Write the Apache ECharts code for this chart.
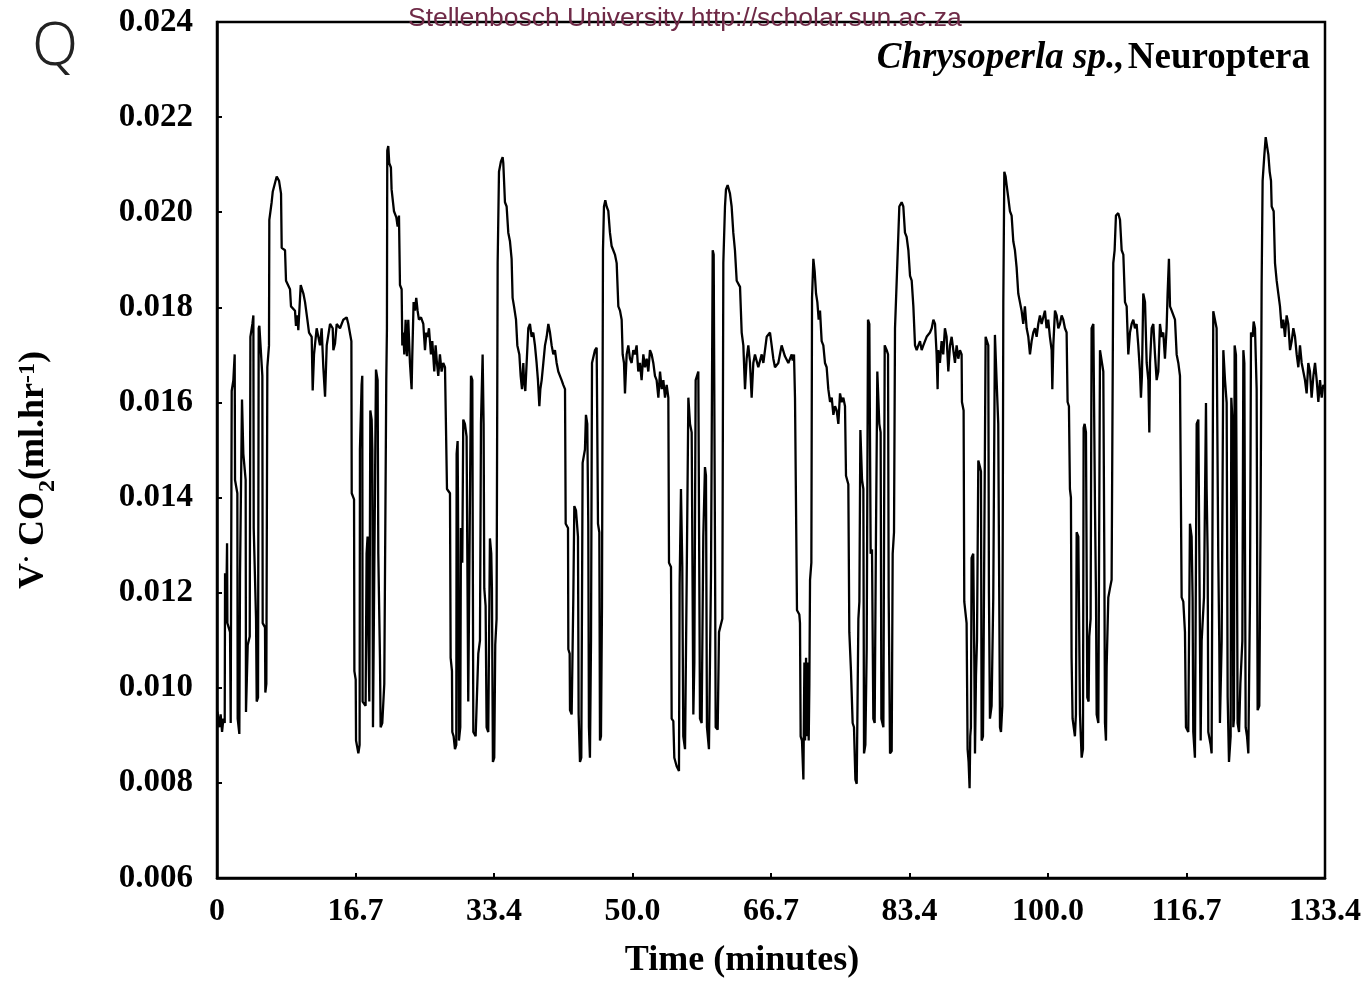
<!DOCTYPE html>
<html><head><meta charset="utf-8">
<script src="https://cdn.jsdelivr.net/npm/echarts@6/dist/echarts.min.js"></script>
<style>html,body{margin:0;padding:0;background:#fff}#c{width:1367px;height:981px}</style>
</head><body><div id="c"></div>
<script>
// [time (minutes), V'CO2 (ml/hr)], one array per phase
const flutter1 = [[0.05,0.00950],[0.16,0.00953],[0.28,0.00917],[0.44,0.00944],[0.61,0.00907],[0.77,0.00935],[0.93,0.00926],[0.97,0.01241],[1.09,0.01136],[1.21,0.01304],[1.25,0.01136],[1.57,0.01117],[1.65,0.00926],[1.73,0.00930],[1.77,0.01624],[1.97,0.01647],[2.13,0.01701],[2.17,0.01437],[2.45,0.01409],[2.49,0.00935],[2.69,0.00903],[2.77,0.01236],[3.01,0.01606],[3.17,0.01492],[3.45,0.01437],[3.49,0.00949],[3.61,0.00953],[3.70,0.01090],[3.94,0.01108],[4.02,0.01738],[4.26,0.01765],[4.38,0.01783],[4.42,0.01336],[4.70,0.01145],[4.78,0.00971],[4.94,0.00980],[5.02,0.01756],[5.10,0.01761],[5.46,0.01656],[5.50,0.01136],[5.78,0.01127],[5.82,0.00990],[5.94,0.01008],[6.06,0.01674],[6.26,0.01720]];
const burst1 = [[6.30,0.01984],[6.58,0.02021],[6.71,0.02043],[6.99,0.02062],[7.19,0.02075],[7.47,0.02066],[7.71,0.02039],[7.79,0.01925],[8.19,0.01920],[8.31,0.01856],[8.79,0.01838],[8.91,0.01802],[9.39,0.01793],[9.51,0.01761],[9.67,0.01783],[9.79,0.01752],[10.08,0.01847],[10.40,0.01829],[10.60,0.01811],[10.88,0.01774],[11.08,0.01747],[11.40,0.01738],[11.52,0.01625],[11.68,0.01701],[12.00,0.01756],[12.40,0.01720],[12.60,0.01756],[12.80,0.01674],[13.01,0.01612],[13.21,0.01720],[13.61,0.01765],[13.93,0.01756],[14.01,0.01710],[14.21,0.01724],[14.41,0.01765],[14.81,0.01756],[15.21,0.01774],[15.61,0.01779],[15.81,0.01765],[16.18,0.01729],[16.22,0.01409],[16.50,0.01396],[16.54,0.01035],[16.70,0.01017],[16.74,0.00889],[17.02,0.00862]];
const flutter2 = [[17.17,0.00880],[17.21,0.01501],[17.41,0.01637],[17.49,0.01656],[17.53,0.00971],[17.89,0.00962],[18.01,0.01282],[18.13,0.01318],[18.22,0.01117],[18.34,0.00971],[18.46,0.01583],[18.62,0.01564],[18.70,0.01501],[18.78,0.00917],[19.02,0.00917],[19.14,0.01669],[19.34,0.01647],[19.42,0.01282],[19.62,0.01063],[19.70,0.00917],[19.90,0.00926],[20.06,0.00926],[20.14,0.01008],[20.38,0.01647],[20.46,0.01756]];
const burst2 = [[20.50,0.02130],[20.62,0.02139],[20.74,0.02103],[20.94,0.02094],[21.02,0.02048],[21.31,0.02002],[21.43,0.01998],[21.59,0.01989],[21.75,0.01970],[21.91,0.01993],[22.03,0.01847],[22.23,0.01838],[22.31,0.01720],[22.43,0.01747],[22.55,0.01701],[22.71,0.01774],[22.87,0.01697],[23.03,0.01774],[23.23,0.01683],[23.43,0.01628],[23.51,0.01697],[23.67,0.01811],[23.83,0.01793],[23.99,0.01820],[24.15,0.01793],[24.31,0.01774],[24.56,0.01779],[24.84,0.01765],[25.04,0.01710],[25.20,0.01747],[25.36,0.01738],[25.52,0.01756],[25.76,0.01701],[25.92,0.01729],[26.16,0.01665],[26.32,0.01720],[26.48,0.01683],[26.64,0.01656],[26.84,0.01701],[27.04,0.01665],[27.24,0.01683],[27.45,0.01674],[27.65,0.01678],[27.69,0.01418],[28.05,0.01409],[28.13,0.01063],[28.29,0.01035],[28.33,0.00907],[28.49,0.00898],[28.65,0.00871]];
const flutter3 = [[28.81,0.00880],[28.85,0.01492],[28.97,0.01519],[29.05,0.01282],[29.13,0.00889],[29.29,0.00917],[29.37,0.01336],[29.53,0.01263],[29.65,0.01564],[29.85,0.01555],[30.05,0.01528],[30.25,0.00971],[30.45,0.00971],[30.58,0.01656],[30.74,0.01647],[30.86,0.00907],[31.14,0.00898],[31.46,0.01072],[31.66,0.01099],[31.78,0.01555],[31.98,0.01701],[32.10,0.01555],[32.18,0.01209],[32.34,0.01172],[32.46,0.00917],[32.66,0.00907],[32.86,0.01314],[33.02,0.01282],[33.10,0.01209],[33.22,0.00844],[33.38,0.00853],[33.50,0.01090],[33.66,0.01145],[33.79,0.01893]];
const burst3 = [[33.95,0.02085],[34.19,0.02107],[34.39,0.02116],[34.47,0.02103],[34.67,0.02021],[34.87,0.02012],[35.07,0.01957],[35.27,0.01939],[35.47,0.01902],[35.59,0.01820],[35.76,0.01802],[36.00,0.01774],[36.16,0.01720],[36.40,0.01701],[36.56,0.01656],[36.72,0.01628],[36.88,0.01683],[36.96,0.01647],[37.12,0.01624],[37.28,0.01683],[37.48,0.01756],[37.68,0.01765],[37.88,0.01738],[38.08,0.01747],[38.28,0.01720],[38.48,0.01683],[38.64,0.01647],[38.81,0.01592],[38.93,0.01628],[39.09,0.01647],[39.29,0.01683],[39.49,0.01720],[39.69,0.01738],[39.89,0.01765],[40.09,0.01747],[40.29,0.01720],[40.49,0.01701],[40.69,0.01710],[40.89,0.01683],[41.09,0.01665],[41.29,0.01656],[41.49,0.01647],[41.69,0.01637],[41.90,0.01628],[41.98,0.01345],[42.26,0.01336],[42.30,0.01081],[42.46,0.01072],[42.50,0.00953],[42.70,0.00944]];
const flutter4 = [[42.90,0.01190],[43.02,0.01382],[43.22,0.01373],[43.46,0.01318],[43.54,0.00944],[43.70,0.00844],[43.86,0.00853],[44.02,0.01473],[44.30,0.01501],[44.42,0.01574],[44.58,0.01555],[44.70,0.01345],[44.78,0.00917],[44.90,0.00853],[45.03,0.01099],[45.15,0.01683],[45.51,0.01710],[45.71,0.01715],[45.87,0.01345],[46.03,0.01327],[46.11,0.00889],[46.23,0.00898],[46.35,0.01172],[46.47,0.01920]];
const burst4 = [[46.59,0.02012],[46.75,0.02025],[46.91,0.02012],[47.11,0.02003],[47.31,0.01957],[47.51,0.01929],[47.71,0.01920],[47.91,0.01911],[48.12,0.01893],[48.32,0.01802],[48.52,0.01793],[48.72,0.01774],[48.84,0.01701],[49.00,0.01683],[49.12,0.01619],[49.32,0.01701],[49.52,0.01720],[49.72,0.01692],[49.92,0.01683],[50.12,0.01710],[50.32,0.01701],[50.52,0.01720],[50.72,0.01665],[50.92,0.01683],[51.12,0.01647],[51.33,0.01701],[51.53,0.01674],[51.73,0.01692],[51.93,0.01665],[52.13,0.01710],[52.33,0.01701],[52.53,0.01683],[52.73,0.01656],[52.93,0.01647],[53.14,0.01610],[53.34,0.01665],[53.54,0.01628],[53.74,0.01647],[53.94,0.01610],[54.14,0.01637],[54.34,0.01610],[54.42,0.01263],[54.66,0.01254],[54.74,0.00935],[54.94,0.00930],[55.06,0.00853],[55.34,0.00835],[55.62,0.00825]];
const flutter5 = [[55.70,0.01218],[55.86,0.01418],[56.02,0.01254],[56.14,0.00898],[56.35,0.00871],[56.55,0.01227],[56.75,0.01610],[56.95,0.01555],[57.15,0.01537],[57.35,0.00944],[57.47,0.01053],[57.63,0.01647],[57.95,0.01665],[58.15,0.00935],[58.35,0.00926],[58.55,0.01318],[58.75,0.01464],[58.87,0.01446],[58.99,0.00917],[59.23,0.00871],[59.48,0.01245],[59.68,0.01920],[59.80,0.01911],[59.96,0.01282],[60.04,0.00917],[60.28,0.00912],[60.44,0.01117],[60.84,0.01145],[60.96,0.01893]];
const burst5 = [[61.16,0.02012],[61.28,0.02048],[61.48,0.02057],[61.76,0.02039],[61.96,0.02012],[62.16,0.01957],[62.36,0.01920],[62.57,0.01856],[62.97,0.01843],[63.17,0.01747],[63.37,0.01720],[63.57,0.01628],[63.77,0.01692],[63.97,0.01720],[64.17,0.01683],[64.37,0.01610],[64.57,0.01683],[64.77,0.01701],[65.17,0.01674],[65.58,0.01701],[65.78,0.01683],[66.18,0.01738],[66.58,0.01747],[66.78,0.01720],[66.98,0.01692],[67.18,0.01674],[67.58,0.01683],[67.98,0.01720],[68.38,0.01697],[68.79,0.01683],[69.19,0.01701],[69.31,0.01688],[69.47,0.01701],[69.59,0.01610],[69.79,0.01606],[69.83,0.01163],[70.11,0.01154],[70.19,0.01136],[70.27,0.00898],[70.43,0.00889],[70.60,0.00807]];
const flutter6 = [[70.72,0.01053],[70.80,0.00889],[70.92,0.01063],[71.00,0.00898],[71.12,0.01053],[71.24,0.00889],[71.32,0.01008],[71.40,0.01227],[71.56,0.01263]];
const burst6 = [[71.64,0.01820],[71.80,0.01902],[71.96,0.01875],[72.12,0.01829],[72.28,0.01811],[72.44,0.01774],[72.60,0.01793],[72.80,0.01729],[73.00,0.01720],[73.20,0.01683],[73.40,0.01674],[73.60,0.01628],[73.81,0.01601],[74.01,0.01610],[74.21,0.01574],[74.41,0.01592],[74.61,0.01583],[74.81,0.01555],[75.01,0.01619],[75.21,0.01601],[75.41,0.01610],[75.61,0.01592],[75.73,0.01446],[76.01,0.01428],[76.13,0.01117],[76.33,0.01035],[76.53,0.00926],[76.69,0.00917],[76.86,0.00807],[77.02,0.00798]];
const flutter7 = [[77.22,0.01145],[77.34,0.01181],[77.46,0.01542],[77.66,0.01437],[77.82,0.01418],[77.90,0.00862],[78.06,0.00880],[78.22,0.01081],[78.38,0.01774],[78.54,0.01765],[78.70,0.01282],[78.86,0.01291],[79.02,0.00935],[79.18,0.00926],[79.34,0.01327],[79.50,0.01665],[79.74,0.01555],[79.90,0.01537],[79.99,0.00935],[80.23,0.00917],[80.39,0.01720],[80.63,0.01710],[80.79,0.01701],[80.87,0.01190],[81.03,0.00862],[81.23,0.00867],[81.35,0.01282],[81.51,0.01327],[81.63,0.01756],[81.83,0.01756],[81.91,0.01893]];
const burst7 = [[82.15,0.02012],[82.43,0.02021],[82.63,0.02012],[82.83,0.01957],[83.03,0.01948],[83.24,0.01920],[83.44,0.01866],[83.64,0.01856],[83.84,0.01802],[84.04,0.01720],[84.24,0.01710],[84.44,0.01720],[84.64,0.01729],[84.84,0.01710],[85.04,0.01720],[85.44,0.01738],[85.84,0.01747],[86.05,0.01756],[86.25,0.01774],[86.45,0.01765],[86.64,0.01701],[86.76,0.01628],[86.84,0.01710],[87.04,0.01683],[87.24,0.01729],[87.44,0.01701],[87.64,0.01756],[87.84,0.01738],[88.05,0.01665],[88.25,0.01720],[88.45,0.01738],[88.65,0.01710],[88.85,0.01683],[89.05,0.01720],[89.25,0.01692],[89.45,0.01710],[89.65,0.01701],[89.69,0.01601],[89.89,0.01583],[89.97,0.01181],[90.25,0.01136],[90.37,0.00871],[90.49,0.00844],[90.61,0.00789]];
const flutter8 = [[90.69,0.00898],[90.77,0.00917],[90.85,0.01273],[91.05,0.01282],[91.18,0.01053],[91.26,0.00862],[91.38,0.01026],[91.50,0.01099],[91.66,0.01478],[91.86,0.01464],[91.98,0.01455],[92.06,0.00889],[92.22,0.00898],[92.30,0.01081],[92.54,0.01738],[92.70,0.01729],[92.86,0.01720],[92.94,0.01199],[93.06,0.00935],[93.26,0.00962],[93.46,0.01190],[93.66,0.01742],[93.86,0.01647],[94.06,0.01555],[94.27,0.00917],[94.39,0.00907],[94.55,0.00962],[94.67,0.01811]];
const burst8 = [[94.79,0.02085],[94.95,0.02075],[95.07,0.02057],[95.27,0.02030],[95.47,0.02002],[95.67,0.01993],[95.87,0.01939],[96.07,0.01920],[96.27,0.01884],[96.47,0.01829],[96.67,0.01811],[96.87,0.01793],[97.07,0.01765],[97.27,0.01802],[97.48,0.01756],[97.68,0.01738],[97.88,0.01701],[98.08,0.01729],[98.28,0.01747],[98.48,0.01756],[98.68,0.01738],[98.88,0.01765],[99.08,0.01783],[99.28,0.01765],[99.68,0.01793],[99.88,0.01756],[100.08,0.01774],[100.28,0.01738],[100.49,0.01710],[100.57,0.01628],[100.69,0.01720],[100.89,0.01793],[101.09,0.01783],[101.29,0.01756],[101.49,0.01765],[101.69,0.01783],[101.89,0.01774],[102.09,0.01756],[102.29,0.01747],[102.41,0.01601],[102.57,0.01592],[102.69,0.01418],[102.81,0.01400],[102.89,0.01063],[103.01,0.00935],[103.21,0.00935],[103.29,0.00898]];
const flutter9 = [[103.41,0.00944],[103.50,0.01327],[103.70,0.01318],[103.90,0.00944],[104.10,0.00853],[104.26,0.00871],[104.34,0.01546],[104.46,0.01555],[104.62,0.01537],[104.78,0.00980],[104.94,0.00971],[105.02,0.01108],[105.18,0.01145],[105.30,0.01756],[105.51,0.01765],[105.71,0.01373],[105.83,0.01190],[105.91,0.00944],[106.11,0.00926],[106.31,0.01710],[106.51,0.01710],[106.71,0.01665],[106.83,0.01282],[106.91,0.00926],[107.03,0.00889],[107.11,0.01044],[107.31,0.01190],[107.51,0.01209],[107.71,0.01227],[107.91,0.01893]];
const burst9 = [[108.07,0.01920],[108.23,0.01993],[108.51,0.01998],[108.72,0.01984],[108.92,0.01920],[109.12,0.01911],[109.32,0.01811],[109.52,0.01802],[109.72,0.01701],[109.92,0.01747],[110.12,0.01765],[110.32,0.01774],[110.52,0.01756],[110.72,0.01765],[110.92,0.01720],[111.12,0.01665],[111.24,0.01610],[111.36,0.01656],[111.52,0.01829],[111.73,0.01811],[111.93,0.01683],[112.13,0.01647],[112.25,0.01537],[112.33,0.01683],[112.53,0.01756],[112.73,0.01765],[112.93,0.01701],[113.13,0.01647],[113.33,0.01665],[113.53,0.01765],[113.73,0.01738],[113.93,0.01747],[114.13,0.01692],[114.33,0.01756],[114.45,0.01829],[114.61,0.01902],[114.74,0.01802],[114.94,0.01793],[115.14,0.01793],[115.34,0.01774],[115.54,0.01701],[115.74,0.01683],[115.94,0.01656],[116.06,0.01656],[116.14,0.01190],[116.34,0.01181],[116.54,0.01117],[116.66,0.00917],[116.94,0.00907]];
const flutter10 = [[117.14,0.01345],[117.34,0.01318],[117.46,0.01190],[117.54,0.00907],[117.74,0.00853],[117.95,0.01555],[118.15,0.01564],[118.27,0.01282],[118.43,0.00889],[118.55,0.01099],[118.83,0.01190],[119.07,0.01599],[119.15,0.01418],[119.27,0.01282],[119.35,0.00907],[119.63,0.00880],[119.75,0.00862],[119.95,0.01792],[120.15,0.01792],[120.35,0.01756],[120.55,0.01273],[120.67,0.01099],[120.75,0.00926],[120.96,0.01099],[121.16,0.01710],[121.36,0.01647],[121.56,0.01599],[121.68,0.00980],[121.84,0.00844],[122.04,0.00898],[122.12,0.01610],[122.28,0.01555],[122.36,0.00917],[122.44,0.00935],[122.52,0.01720],[122.68,0.01700],[122.80,0.01282],[122.88,0.00926],[123.05,0.00907],[123.21,0.01008],[123.45,0.01099],[123.57,0.01710],[123.69,0.01683],[123.77,0.01282],[123.85,0.00917],[124.01,0.00898],[124.17,0.00862],[124.37,0.01190],[124.49,0.01747],[124.69,0.01738],[124.81,0.01770],[124.97,0.01756],[125.17,0.01628],[125.29,0.00953],[125.49,0.00962],[125.65,0.01373],[125.77,0.01847]];
const burst10 = [[125.89,0.02066],[126.10,0.02121],[126.26,0.02158],[126.42,0.02139],[126.58,0.02121],[126.74,0.02085],[126.90,0.02066],[126.98,0.02012],[127.22,0.02002],[127.38,0.01893],[127.58,0.01856],[127.78,0.01829],[127.98,0.01802],[128.18,0.01756],[128.38,0.01774],[128.58,0.01738],[128.78,0.01783],[128.98,0.01765],[129.19,0.01710],[129.39,0.01729],[129.59,0.01756],[129.79,0.01738],[129.99,0.01701],[130.19,0.01674],[130.39,0.01720],[130.59,0.01683],[130.79,0.01665],[130.99,0.01647],[131.19,0.01619],[131.39,0.01683],[131.59,0.01665],[131.79,0.01610],[132.00,0.01656],[132.20,0.01683],[132.40,0.01647],[132.60,0.01601],[132.80,0.01647],[133.00,0.01610],[133.20,0.01637],[133.32,0.01628]];

const xTickLabels = ['0','16.7','33.4','50.0','66.7','83.4','100.0','116.7','133.4'];
const xMax = 133.4, xStep = 133.4 / 8;
const yMin = 0.006, yMax = 0.024, yStep = 0.002;

const trace = [].concat(flutter1, burst1, flutter2, burst2, flutter3, burst3, flutter4, burst4,
  flutter5, burst5, flutter6, burst6, flutter7, burst7, flutter8, burst8, flutter9, burst9, flutter10, burst10);

const serif = '"Liberation Serif", "Times New Roman", serif';
const chart = echarts.init(document.getElementById('c'), null, {renderer: 'canvas'});
chart.setOption({
  animation: false,
  backgroundColor: '#fff',
  grid: {left: 217, right: 42, top: 22, bottom: 103, show: true, borderColor: '#000', borderWidth: 2.5, backgroundColor: 'transparent'},
  xAxis: {
    type: 'value', min: 0, max: xMax, interval: xStep,
    axisLine: {show: true, lineStyle: {color: '#000', width: 2.5}},
    axisTick: {show: true, inside: true, length: 5, lineStyle: {color: '#000', width: 2}},
    splitLine: {show: false},
    axisLabel: {
      margin: 18, color: '#000', fontFamily: serif, fontWeight: 'bold', fontSize: 32,
      formatter: v => { const i = Math.round(v / xStep); return xTickLabels[i] !== undefined ? xTickLabels[i] : ''; }
    }
  },
  yAxis: {
    type: 'value', min: yMin, max: yMax, interval: yStep,
    axisLine: {show: true, lineStyle: {color: '#000', width: 2.5}},
    axisTick: {show: true, inside: true, length: 5, lineStyle: {color: '#000', width: 2}},
    splitLine: {show: false},
    axisLabel: {margin: 24, color: '#000', fontFamily: serif, fontWeight: 'bold', fontSize: 33, formatter: v => v.toFixed(3)}
  },
  series: [{
    type: 'line', data: trace, showSymbol: false, symbol: 'none', clip: true,
    lineStyle: {color: '#000', width: 2.3}, silent: true
  }],
  graphic: [
    {type: 'text', x: 408, y: 5, style: {text: 'Stellenbosch University http://scholar.sun.ac.za', font: '26.5px "Liberation Sans", Arial, sans-serif', fill: '#6f2a47'}},
    {type: 'text', x: 55, y: 48, style: {text: 'Q', font: '300 60px "Noto Sans", "Liberation Sans", sans-serif', fill: '#222', align: 'center', verticalAlign: 'middle'}},
    {type: 'text', x: 1310, y: 58, style: {
      text: '{i|Chrysoperla sp.,} {b|Neuroptera}', align: 'right', verticalAlign: 'middle',
      rich: {
        i: {fontFamily: serif, fontStyle: 'italic', fontWeight: 'bold', fontSize: 37, fill: '#000'},
        b: {fontFamily: serif, fontWeight: 'bold', fontSize: 37, fill: '#000'}
      }}},
    {type: 'text', x: 742, y: 961, style: {text: 'Time (minutes)', font: 'bold 36px "Liberation Serif", "Times New Roman", serif', fill: '#000', align: 'center', verticalAlign: 'middle'}},
    {type: 'text', x: 34, y: 470, rotation: Math.PI / 2, style: {
      text: '{b|V}{dot|·}{b| CO}{sub|2}{b|(ml.hr}{sup|-1}{b|)}', align: 'center', verticalAlign: 'middle',
      rich: {
        b: {fontFamily: serif, fontWeight: 'bold', fontSize: 36, fill: '#000', verticalAlign: 'bottom'},
        dot: {fontFamily: serif, fontWeight: 'bold', fontSize: 24, fill: '#000', verticalAlign: 'top'},
        sub: {fontFamily: serif, fontWeight: 'bold', fontSize: 24, fill: '#000', verticalAlign: 'bottom', padding: [0, 0, -8, 0]},
        sup: {fontFamily: serif, fontWeight: 'bold', fontSize: 24, fill: '#000', verticalAlign: 'top'}
      }}}
  ]
});
</script></body></html>
